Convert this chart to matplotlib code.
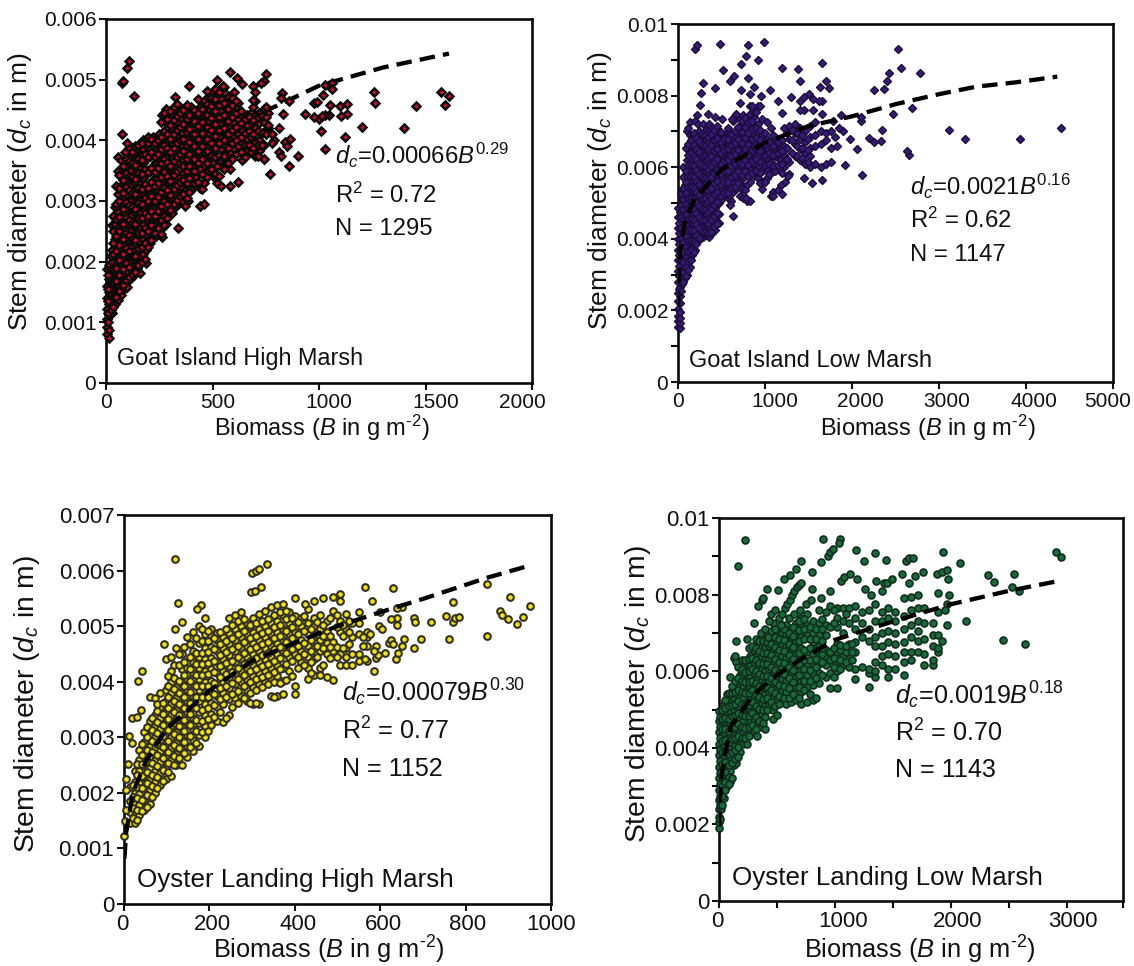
import numpy as np
import matplotlib
matplotlib.use("Agg")
import matplotlib.pyplot as plt
from matplotlib.transforms import ScaledTranslation

plt.rcParams['font.family'] = ['Liberation Sans', 'DejaVu Sans']
plt.rcParams['mathtext.fontset'] = 'custom'
plt.rcParams['mathtext.rm'] = 'Liberation Sans'
plt.rcParams['mathtext.it'] = 'Liberation Sans:italic'
plt.rcParams['mathtext.bf'] = 'Liberation Sans:bold'

W, H = 1134, 966

# all stem diameters below are read in mm, biomass in g/m2
# dense part of each cloud is read column by column: biomass, then diameters in that column

# Goat Island High Marsh
gh_b = [5,15,28,42,55,70,85,100,115,130,145,160,175,190,205,220,235,250,265,280,295,310,325,340,355,370,385,400,420,440,460,480,500,520,540,560,580,600,620,640,660,680,700,720,740,760]
gh_d = [[.8,.92,1.05,1.22,1.4,1.6,1.88],[.75,.88,1.12,1.3,1.5,1.72,1.95],[1.15,1.38,1.6,1.8,2.0,2.2,2.6],
    [1.3,1.5,1.72,1.95,2.15,2.38,2.62,2.9],[1.36,1.62,1.85,2.08,2.3,2.55,2.82,3.12,3.5,3.72],[1.45,1.68,1.92,2.15,2.42,2.68,2.95,3.2,3.68],
    [1.55,1.8,2.05,2.3,2.55,2.8,3.05,3.3,3.5],[1.58,1.85,2.12,2.38,2.62,2.88,3.12,3.38,3.6,3.8],[1.72,2.0,2.25,2.5,2.75,3.0,3.25,3.5,3.72],
    [1.78,2.05,2.3,2.58,2.82,3.08,3.32,3.58,3.82],[1.9,2.15,2.4,2.65,2.9,3.15,3.4,3.65,3.85],[1.82,2.1,2.32,2.55,2.8,3.02,3.28,3.52,3.75,3.9],
    [2.12,2.38,2.62,2.88,3.12,3.38,3.62,3.85,4.0],[1.98,2.2,2.45,2.7,2.95,3.2,3.45,3.7,3.92],[2.3,2.55,2.8,3.02,3.28,3.5,3.75,3.98],
    [2.4,2.62,2.88,3.1,3.35,3.58,3.82,4.05],[2.42,2.7,2.95,3.18,3.4,3.65,3.88,4.02],[2.5,2.78,3.02,3.25,3.48,3.7,3.92,4.1],
    [2.4,2.55,2.82,3.08,3.3,3.55,3.78,4.0,4.42],[2.62,2.88,3.12,3.38,3.6,3.82,4.05,4.3,4.52],[2.78,3.0,3.2,3.45,3.68,3.9,4.12,4.38],
    [2.8,3.05,3.28,3.52,3.72,3.95,4.18,4.42],[2.9,3.1,3.35,3.58,3.8,4.02,4.25,4.5,4.72],[2.55,2.95,3.2,3.42,3.65,3.85,4.08,4.3,4.55],
    [3.0,3.22,3.48,3.7,3.92,4.12,4.35],[2.92,3.18,3.38,3.58,3.78,4.0,4.2,4.42],[3.0,3.25,3.45,3.65,3.85,4.05,4.28],
    [3.18,3.52,3.72,3.92,4.12,4.32,4.55],[3.4,3.6,3.8,4.0,4.2,4.42],[2.92,3.22,3.52,3.72,3.92,4.1,4.32,4.55],
    [2.95,3.3,3.6,3.8,4.0,4.2,4.4,4.65],[3.5,3.72,3.9,4.1,4.3,4.5,4.72],[3.42,3.62,3.85,4.05,4.25,4.45,4.62,4.8],
    [3.3,3.58,3.95,4.15,4.38,4.58,4.75,5.0],[3.25,3.65,3.85,4.05,4.28,4.48,4.68,4.85],[3.62,3.9,4.1,4.32,4.55,4.78],
    [3.25,3.52,3.8,4.0,4.22,4.42,4.62,5.12],[3.85,4.05,4.28,4.48,4.8],[3.32,3.9,4.1,4.35,4.62],[3.68,3.95,4.15,4.4,4.93],
    [3.82,4.02,4.25,4.42],[3.8,4.05,4.3,4.45],[3.75,3.98,4.2,4.42,4.65],[3.82,4.0,4.28,4.45],[3.7,3.92,4.3,4.52],[4.2,4.45]]
gh_b2 = [10,22,35,48,62,78,92,107,122,138,152,168,182,198,212,228,242,258,272,288,302,318,332,348,362,378,392,412,432,452,472,492,512,532,552,572,592,612,632,652,672,692,712,732,752]
gh_d2 = [[1.0,1.15,1.35,1.55,1.78],[1.2,1.45,1.65,1.88,2.1],[1.25,1.42,1.67,1.88,2.12,2.3,2.5,2.75],[1.42,1.68,1.9,2.18,2.43,2.7,2.95,3.25],
    [1.52,1.78,2.03,2.27,2.5,2.73,3.0,3.22,3.43],[1.62,1.88,2.13,2.37,2.62,2.87,3.13,3.35,3.58],[1.7,1.97,2.22,2.47,2.72,2.98,3.23,3.46,3.7],
    [1.75,1.92,2.18,2.44,2.68,2.93,3.18,3.42,3.66,3.88],[1.8,2.1,2.37,2.64,2.9,3.14,3.4,3.62,3.8],[1.83,2.1,2.35,2.62,2.86,3.12,3.36,3.6,3.9],
    [1.95,2.22,2.47,2.72,2.97,3.22,3.46,3.7,3.92],[2.0,2.25,2.47,2.72,2.95,3.2,3.44,3.68,3.95],[2.05,2.3,2.55,2.8,3.05,3.28,3.52,3.78],
    [2.25,2.5,2.75,3.0,3.22,3.48,3.72,3.96,4.05],[2.35,2.6,2.83,3.08,3.32,3.55,3.8,4.02],[2.48,2.75,3.0,3.25,3.47,3.72,3.95],[2.55,2.83,3.07,3.3,3.55,3.78,4.0],
    [2.45,2.68,2.92,3.15,3.4,3.62,3.85,4.05,4.3],[2.6,2.75,3.0,3.22,3.47,3.7,3.92,4.15,4.45],[2.72,2.95,3.18,3.42,3.65,3.87,4.1,4.35],
    [2.85,3.1,3.33,3.57,3.8,4.02,4.25,4.48],[2.95,3.2,3.43,3.66,3.88,4.1,4.33,4.55],[3.02,3.27,3.5,3.73,3.95,4.17,4.4,4.6],[3.08,3.32,3.55,3.78,4.0,4.22,4.45],
    [3.12,3.35,3.57,3.82,4.03,4.27,4.5],[3.05,3.3,3.5,3.7,3.93,4.13,4.35,4.58],[3.15,3.38,3.58,3.78,3.98,4.18,4.42],[3.3,3.5,3.7,3.9,4.1,4.32,4.5],
    [3.32,3.62,3.83,4.03,4.23,4.45,4.68],[3.2,3.45,3.7,3.9,4.12,4.3,4.52],[3.4,3.63,3.83,4.02,4.22,4.42,4.6,4.82],[3.53,3.74,3.96,4.17,4.37,4.57,4.7],
    [3.45,3.72,3.87,4.07,4.27,4.48,4.68,4.85],[3.42,3.76,3.96,4.17,4.38,4.58,4.8],[3.52,3.75,4.0,4.2,4.42,4.62,4.88],[3.62,3.88,4.1,4.32,4.52,4.72],
    [3.7,3.95,4.17,4.38,4.58,4.7],[3.78,4.0,4.22,4.45,4.65],[3.8,4.05,4.28,4.48],[3.72,3.92,4.12,4.35],[3.92,4.15,4.38],[3.88,4.1,4.33,4.55],
    [3.75,3.92,4.15,4.38],[3.92,4.12,4.4],[4.1,4.38,4.55]]
gh_extra = [(107,5.3),(100,5.2),(75,4.95),(80,4.97),(130,4.73),(75,4.1),(100,3.95),(90,3.8),(1590,4.58),(1612,4.73),(1575,4.8),(1457,4.57),
    (1400,4.2),(1262,4.62),(1257,4.8),(1200,4.22),(1130,4.6),(1130,4.43),(1105,4.4),(1100,4.57),(1122,4.05),(1050,4.58),(1045,4.42),(1030,4.42),
    (1060,4.95),(1030,4.92),(1060,4.85),(1020,4.75),(1000,4.35),(1012,4.4),(975,4.38),(975,4.62),(990,4.63),(1008,4.15),(1027,3.85),(932,4.43),
    (900,3.75),(865,4.03),(857,3.57),(830,4.43),(860,4.65),(825,4.78),(820,4.7),(810,4.2),(810,3.8),(820,3.75),(840,3.98),(850,3.9),(790,4.0),
    (780,3.95),(770,3.45),(742,3.7),(780,4.1),(760,4.25),(750,5.1),(740,4.97),(730,4.95),(690,4.9),(700,4.8),(690,4.67),(615,5.03),(550,4.9),(390,4.9)]
gh_line_b = [3,10,25,50,100,150,200,300,400,500,700,1000,1300,1610]
gh_line_d = [.9,1.29,1.69,2.06,2.51,2.81,3.07,3.44,3.73,4.0,4.4,4.9,5.2,5.43]

# Goat Island Low Marsh
gl_b = [5,20,45,75,105,135,165,195,225,255,290,325,360,395,430,470,510,550,590,630,670,710,750,790,830,870,920,970,1020,1070,1120,1170,1220,1280,1340,1400,1460,1520,1580,1640,1700,1760]
gl_d = [[1.55,1.7,1.85,2.05,2.25,2.5,2.8,3.1,3.4,3.7,4.0,4.3,4.6,4.85],[1.5,1.65,1.8,1.95,2.2,2.4,2.65,2.95,3.25,3.55,3.85,4.15,4.45,4.75],
    [2.75,3.0,3.3,3.6,3.9,4.2,4.5,4.8,5.1,5.35],[2.9,3.15,3.4,3.7,4.0,4.3,4.6,4.9,5.2,5.5,5.95],[3.0,3.25,3.55,3.85,4.15,4.45,4.75,5.05,5.35,5.65,6.2,6.5,7.0],
    [3.2,3.45,3.75,4.05,4.35,4.65,4.95,5.25,5.55,5.85,6.15,6.9,7.25],[3.55,3.85,4.15,4.45,4.75,5.05,5.35,5.65,5.95,6.25,6.6,6.85],
    [3.7,4.0,4.3,4.6,4.9,5.2,5.5,5.8,6.1,6.4,6.7,7.3],[3.95,4.25,4.55,4.85,5.15,5.45,5.75,6.05,6.35,6.65,7.2],[4.1,4.4,4.7,5.0,5.3,5.6,5.9,6.2,6.5,6.8],
    [4.05,4.35,4.65,4.95,5.25,5.55,5.85,6.15,6.45,6.75,7.2],[4.1,4.4,4.7,5.0,5.3,5.6,5.9,6.2,6.5,6.8,7.05],[4.05,4.3,4.6,4.9,5.2,5.5,5.8,6.1,6.4,6.7,7.0,7.2],
    [4.15,4.45,4.75,5.05,5.35,5.65,5.95,6.25,6.55,6.85,7.1],[4.25,4.55,4.85,5.15,5.45,5.75,6.05,6.35,6.65,6.95,7.4],[4.45,4.7,5.0,5.3,5.6,5.9,6.2,6.5,6.8,7.0],
    [5.1,5.4,5.7,6.0,6.3,6.6,6.9,7.35],[5.2,5.5,5.8,6.1,6.4,6.7,6.95],[5.15,5.45,5.75,6.05,6.35,6.65,6.9],[4.65,5.3,5.6,5.9,6.2,6.5,6.8,7.3],
    [5.4,5.7,6.0,6.3,6.6,6.9,7.5],[5.2,5.55,5.85,6.15,6.45,6.75,7.05,7.35,7.8],[5.15,5.7,6.0,6.3,6.6,6.9,7.2,7.45],[5.05,5.5,5.85,6.15,6.45,6.75,7.05,7.3],
    [5.6,5.95,6.25,6.55,6.85,7.15,7.5,7.7],[5.75,6.1,6.4,6.7,7.0,7.4,7.55],[5.7,6.0,6.3,6.6,6.9,7.2,7.7],[5.4,5.6,5.9,6.2,6.5,6.9,7.35],
    [5.7,5.95,6.25,6.55,6.8,7.25],[5.2,5.85,6.15,6.45,6.7,7.1],[5.9,6.3,6.55,6.85],[5.95,6.2,6.5,6.8],[6.0,6.35,6.6,7.1],[5.8,6.15,6.8,7.15],
    [6.3,6.65,6.95,7.2],[6.2,6.5,6.8,7.1],[6.1,6.4,6.7,7.0],[6.0,6.3,6.55,6.85,7.15],[6.1,6.6,6.9,7.25],[6.0,6.65,7.0],[6.1,6.75,6.95],[6.15,6.55,7.0]]
gl_b2 = [10,30,60,90,120,150,180,210,240,272,307,342,378,412,450,490,530,570,610,650,690,730,770,810,850,895,945,995,1045,1095,1145,1195,1250,1310,1370,1430,1490]
gl_d2 = [[2.6,2.95,3.25,3.55,3.85,4.15,4.45],[2.55,2.8,3.1,3.4,3.7,4.0,4.3,4.6,4.95,5.25],[2.8,3.08,3.35,3.62,3.92,4.22,4.52,4.82,5.12,5.42,5.72,6.0],
    [2.95,3.22,3.5,3.78,4.08,4.38,4.68,4.98,5.28,5.58,5.9,6.55],[3.12,3.38,3.65,3.95,4.25,4.55,4.85,5.15,5.45,5.75,6.05,6.35,6.65,7.1],
    [3.4,3.68,3.95,4.25,4.55,4.85,5.15,5.45,5.75,6.05,6.4,6.75],[3.62,3.92,4.22,4.52,4.82,5.12,5.42,5.72,6.02,6.32,6.62,6.95],
    [3.85,4.12,4.42,4.72,5.02,5.32,5.62,5.92,6.22,6.52,6.82],[4.02,4.3,4.62,4.92,5.22,5.52,5.82,6.12,6.42,6.72,7.0],[4.22,4.52,4.82,5.12,5.42,5.72,6.02,6.32,6.62,6.92],
    [4.2,4.5,4.8,5.1,5.4,5.7,6.0,6.3,6.6,6.9],[4.15,4.45,4.75,5.05,5.35,5.65,5.95,6.25,6.55,6.85],[4.2,4.52,4.82,5.12,5.42,5.72,6.02,6.32,6.62,6.92],
    [4.35,4.65,4.95,5.25,5.55,5.85,6.15,6.45,6.75,7.05],[4.42,4.72,5.02,5.32,5.62,5.92,6.22,6.52,6.82,7.15],[5.2,5.5,5.8,6.1,6.4,6.7,6.98],[5.28,5.58,5.88,6.18,6.48,6.78],
    [5.28,5.6,5.9,6.2,6.5,6.8,7.1],[5.05,5.42,5.72,6.02,6.32,6.62,6.92],[5.45,5.78,6.08,6.38,6.68,7.0],[5.55,5.88,6.18,6.48,6.78,7.12],[5.4,5.78,6.08,6.38,6.68,6.98,7.28],
    [5.35,5.9,6.2,6.52,6.82,7.12,7.38],[5.75,6.05,6.35,6.65,6.95,7.25],[5.85,6.18,6.48,6.78,7.08,7.3],[5.9,6.22,6.52,6.82,7.1],[5.55,5.85,6.15,6.45,6.75,7.05],
    [5.6,6.05,6.35,6.65,6.95],[5.8,6.1,6.4,6.7],[5.3,6.02,6.35,6.6,6.9],[6.05,6.4,6.7],[5.85,6.1,6.45,6.75],[6.22,6.55,6.95],[6.4,6.75,7.05],[6.3,6.6,6.95],[6.25,6.55,6.9],[6.15,6.48,6.78]]
gl_extra = [(4400,7.1),(3930,6.8),(3300,6.78),(3110,7.03),(2780,8.62),(2690,7.65),(2660,6.35),(2630,6.45),(2560,8.78),(2530,9.3),(2470,7.48),(2420,8.62),
    (2400,8.4),(2370,8.18),(2350,7.05),(2330,6.72),(2250,6.7),(2250,8.15),(2200,6.82),(2120,5.78),(2100,7.28),(2100,7.4),(2060,6.5),(1980,6.8),(1920,6.05),
    (1870,7.45),(1900,7.0),(1850,7.1),(1800,6.85),(1780,7.3),(1830,6.6),(200,9.3),(215,9.4),(480,9.45),(800,9.4),(990,9.5),(920,9.0),(780,9.1),(720,8.88),
    (520,8.72),(1200,8.78),(1380,8.75),(1650,8.92),(1400,8.4),(1700,8.4),(1740,8.2),(1630,8.25),(1650,7.85),(1060,8.15),(1150,7.85),(1300,7.95),(1200,7.52),
    (1400,7.85),(1450,7.95),(1500,8.05),(1550,7.9),(1450,7.6),(1550,7.6),(1650,7.5),(1620,7.85),(1400,7.6),(290,8.35),(260,8.07),(430,8.2),(640,8.55),
    (600,8.42),(800,8.5),(720,8.15),(830,8.05),(870,8.25),(950,8.0),(850,7.7),(940,7.7),(900,7.55),(620,7.35),(250,7.75),(340,7.5),(220,7.45),(1200,5.25),
    (1090,5.2),(1150,5.35),(1230,5.6),(1270,5.75),(1180,5.5),(1450,5.7),(1540,5.55),(1650,5.65),(830,5.05),(780,5.15),(600,4.95)]
gl_line_b = [1,5,20,80,200,500,1000,1500,2000,2500,3000,3430,3880,4360]
gl_line_d = [2.1,2.72,3.56,4.5,5.15,5.94,6.69,7.15,7.42,7.76,8.04,8.25,8.37,8.53]

# Oyster Landing High Marsh
oh_b = [15,25,35,48,60,72,85,98,110,122,135,148,162,176,190,204,218,232,246,260,274,288,302,316,330,344,358,372,386,400,414,430,445,460,475,490,505,520,535,550,570]
oh_d = [[1.45,1.65,1.85,2.1],[1.45,1.6,1.8,2.0,2.2,2.4],[1.6,1.78,1.98,2.18,2.4,2.6,2.78],[1.7,1.88,2.08,2.28,2.5,2.7,2.92,3.1],
    [1.8,2.05,2.25,2.45,2.65,2.85,3.05,3.3,3.72],[2.0,2.2,2.4,2.6,2.8,3.0,3.2,3.4,3.7],[2.15,2.35,2.55,2.75,2.95,3.15,3.35,3.55,3.8],
    [2.25,2.45,2.65,2.85,3.05,3.25,3.45,3.65,3.85,4.4],[2.3,2.6,2.8,3.0,3.2,3.4,3.6,3.8,4.0,4.2,4.45],[2.5,2.7,2.9,3.1,3.3,3.5,3.7,3.9,4.6],
    [2.5,2.8,3.0,3.2,3.4,3.6,3.8,4.0,4.22,4.5],[2.65,2.85,3.05,3.25,3.45,3.65,3.85,4.05,4.25,4.8],[2.75,2.95,3.15,3.35,3.55,3.75,3.95,4.15,4.35,4.55,4.9],
    [2.85,3.05,3.25,3.45,3.65,3.85,4.05,4.25,4.45,4.7,5.0],[3.0,3.2,3.4,3.6,3.8,4.0,4.2,4.4,4.6,4.85],[3.22,3.42,3.62,3.82,4.02,4.22,4.42,4.62,4.82,4.95],
    [3.3,3.55,3.75,3.95,4.15,4.35,4.55,4.75,4.88],[3.28,3.6,3.8,4.0,4.2,4.4,4.6,4.8],[3.4,3.68,3.88,4.08,4.28,4.48,4.68,4.88,5.15],
    [3.7,3.95,4.15,4.35,4.55,4.75,4.95,5.2],[3.75,4.0,4.2,4.4,4.6,4.8,5.0,5.25],[3.65,3.85,4.05,4.25,4.45,4.65,4.85,5.05],[3.6,3.9,4.1,4.3,4.5,4.7,4.9,5.15],
    [3.6,3.95,4.15,4.35,4.55,4.75,4.95,5.22],[4.0,4.2,4.4,4.6,4.8,5.0,5.28],[3.75,4.05,4.25,4.45,4.65,4.85,5.05,5.35],[3.75,4.1,4.3,4.5,4.7,4.9,5.1,5.38],
    [3.78,4.02,4.25,4.55,4.75,4.95,5.2,5.4],[4.2,4.45,4.65,4.85,5.05,5.25],[3.78,3.92,4.5,4.7,4.9,5.18],[4.35,4.55,4.75,5.0,5.15],[4.05,4.25,4.45,4.65,4.85,5.05,5.3],
    [4.12,4.4,4.6,4.8,5.0,5.15],[4.12,4.25,4.55,4.75,4.95,5.2],[4.08,4.5,4.7,4.9,5.1],[4.03,4.55,4.72,5.28],[4.3,4.5,4.9,5.1],[4.3,4.45,4.6,4.95,5.22],
    [4.3,4.5,4.8,5.05],[4.38,4.5,4.85,5.05,5.25],[4.38,4.65,4.8,4.9]]
oh_b2 = [20,30,42,54,66,78,91,104,116,128,141,155,169,183,197,211,225,239,253,267,281,295,309,323,337,351,365,380,393,407,422,437,452,467,482,498,513,528]
oh_d2 = [[1.55,1.73,1.92,2.15],[1.52,1.7,1.9,2.1,2.32,2.52],[1.68,1.87,2.08,2.3,2.52,2.68,2.88],[1.75,1.97,2.18,2.38,2.58,2.78,3.0,3.18],
    [1.92,2.12,2.33,2.53,2.73,2.93,3.13,3.35],[2.08,2.28,2.48,2.68,2.88,3.08,3.28,3.48,3.6],[2.22,2.42,2.62,2.82,3.02,3.22,3.42,3.62],
    [2.37,2.53,2.73,2.93,3.13,3.33,3.53,3.73,3.93,4.1],[2.5,2.66,2.86,3.06,3.26,3.46,3.66,3.86,4.06,4.3],[2.62,2.8,3.0,3.2,3.4,3.6,3.8,4.02,4.3,4.5],
    [2.72,2.92,3.12,3.32,3.52,3.72,3.92,4.12,4.35,4.62],[2.82,3.02,3.22,3.42,3.62,3.82,4.02,4.22,4.45,4.68],[2.9,3.12,3.32,3.52,3.72,3.92,4.12,4.32,4.52,4.78],
    [3.1,3.3,3.5,3.72,3.92,4.12,4.32,4.52,4.74,4.95],[3.12,3.33,3.53,3.73,3.93,4.13,4.33,4.53,4.73,4.92],[3.37,3.58,3.78,3.98,4.18,4.38,4.58,4.78],
    [3.45,3.68,3.88,4.08,4.28,4.48,4.68,4.9],[3.35,3.73,3.93,4.13,4.33,4.53,4.73,4.95],[3.55,3.78,3.98,4.18,4.38,4.58,4.78,5.02],[3.62,3.83,4.05,4.25,4.45,4.65,4.85,5.1],
    [3.7,3.92,4.12,4.32,4.52,4.72,4.92,5.12],[3.62,3.8,4.0,4.2,4.38,4.58,4.78,4.98,5.02],[3.62,3.85,4.05,4.22,4.42,4.62,4.82,5.05],[3.9,4.08,4.28,4.48,4.68,4.88,5.1],
    [3.95,4.12,4.32,4.52,4.72,4.92,5.12],[3.73,4.0,4.18,4.38,4.58,4.78,4.98,5.2],[3.98,4.22,4.42,4.62,4.82,5.02,5.25],[4.03,4.32,4.52,4.72,4.92,5.12,5.28],
    [4.1,4.38,4.58,4.78,4.98,5.15],[4.25,4.45,4.65,4.85,5.08],[4.3,4.5,4.7,4.92,5.18],[4.15,4.35,4.55,4.75,4.95],[4.45,4.65,4.85,5.08],[4.3,4.6,4.82,5.02],
    [4.42,4.62,4.82,5.15],[4.45,4.62,4.98,5.2],[4.6,4.82,5.02],[4.68,4.9,5.1]]
oh_extra = [(120,6.2),(300,5.96),(310,6.0),(316,6.03),(336,6.12),(298,5.62),(306,5.64),(320,5.7),(126,5.42),(136,5.07),(120,4.95),(180,5.38),(170,5.3),(190,5.14),
    (94,4.68),(42,4.2),(33,4.02),(40,3.5),(18,3.35),(30,3.36),(12,3.02),(18,2.9),(10,2.52),(5,2.25),(4,2.05),(2,1.5),(5,1.7),(0,1.22),(400,5.5),(425,5.4),(445,5.45),
    (465,5.5),(490,5.52),(505,5.58),(505,5.45),(565,5.7),(580,5.45),(630,5.68),(650,5.35),(640,5.33),(850,5.75),(770,5.43),(905,5.53),(950,5.36),(880,5.27),(886,5.2),
    (900,5.12),(920,5.03),(935,5.16),(850,4.83),(760,4.77),(755,5.18),(770,5.08),(775,5.15),(785,5.17),(720,5.07),(695,4.77),(680,5.15),(682,5.07),(678,4.6),(655,4.77),
    (650,4.65),(640,5.15),(640,5.02),(625,5.13),(637,4.4),(642,4.52),(612,4.52),(620,4.7),(625,4.75),(630,4.68),(600,5.25),(598,5.0),(605,4.95),(585,4.2),(590,4.42),
    (595,4.48),(590,4.65),(585,4.55),(575,4.85),(560,4.65),(560,4.8),(565,4.4)]
oh_line_b = [1,5,20,50,100,200,300,400,500,600,700,850,950]
oh_line_d = [.82,1.28,1.98,2.55,3.15,3.84,4.38,4.7,5.0,5.25,5.49,5.87,6.09]

# Oyster Landing Low Marsh
ol_b = [4,18,40,70,95,125,150,180,210,240,270,300,330,360,395,430,465,500,540,580,620,660,710,760,810,860,920,960,1020,1070,1120,1170,1230,1290,1340,1400,1460,1520,1590,1650,1710,1770,1840,1890]
ol_d = [[1.9,2.05,2.2,2.4,2.65,2.9,3.2,3.5,3.8,4.1,4.4,4.7,4.95],[2.4,2.6,2.85,3.1,3.4,3.7,4.0,4.3,4.6,4.85],[2.7,2.95,3.2,3.45,3.75,4.05,4.35,4.65,5.15],
    [3.0,3.35,3.65,3.95,4.25,4.55,4.85,5.4],[3.1,3.4,3.75,4.05,4.35,4.65,4.95,5.25,5.85],[3.55,3.8,4.1,4.4,4.7,5.0,5.3,6.35],[3.6,3.9,4.2,4.5,4.8,5.1,5.4,5.7,6.25,6.8],
    [3.9,4.1,4.45,4.75,5.05,5.35,5.65,5.9],[4.1,4.4,4.7,5.0,5.3,5.6,5.9,6.2],[4.1,4.35,4.6,4.9,5.2,5.5,5.8,6.05,6.25,6.85],[4.4,4.7,5.0,5.3,5.6,5.85,6.15,6.4],
    [4.45,4.75,5.05,5.35,5.65,5.95,6.25,6.55,7.25],[4.3,4.6,4.9,5.2,5.5,5.8,6.1,6.4,6.7],[4.55,4.85,5.15,5.45,5.75,6.05,6.35,6.65,7.0],[4.5,4.8,5.1,5.4,5.7,6.0,6.3,6.6,6.85],
    [5.15,5.45,5.75,6.05,6.35,6.65,6.95],[4.75,5.0,5.3,5.6,5.9,6.2,6.5,6.8,7.25],[4.85,5.25,5.55,5.85,6.15,6.45,6.75,7.05],[5.2,5.5,5.8,6.1,6.4,6.7,7.0,7.2],
    [5.15,5.45,5.75,6.05,6.35,6.65,6.95,7.2],[5.2,5.6,5.9,6.2,6.5,6.8,7.1],[5.25,5.6,5.85,6.15,6.45,6.75,7.0,7.25],[5.15,5.45,5.75,6.05,6.35,6.6,6.9,7.2,7.4],
    [5.2,5.6,5.9,6.15,6.5,6.95,7.2,7.5],[5.25,5.65,5.95,6.2,6.45,6.75,7.0,7.3],[5.7,5.95,6.2,6.45,6.65,6.95,7.25,7.6],[5.85,6.15,6.35,6.55,6.95,7.2,7.55],
    [5.55,5.95,6.3,6.5,7.15,7.7],[5.55,6.0,6.25,6.5,6.7,7.15,7.4,7.65],[6.15,6.4,6.6,7.0,7.3,7.65],[6.1,6.45,6.7,7.25,7.65],[5.8,6.05,6.5,6.75,7.1,7.4,7.7],
    [6.1,6.9,7.25,7.55],[5.6,5.95,6.05,6.8,7.1,7.6],[5.85,6.0,6.25,6.65,6.9,7.3,7.75],[6.15,6.4,6.65,7.0,7.3,7.55],[5.85,6.05,6.45,6.75,7.05,7.4,7.65],
    [6.05,6.4,6.7,7.0,7.3,7.55],[5.9,6.25,6.5,6.75,7.1,7.45,7.9],[6.3,6.5,6.9,7.2,7.6,7.95],[6.5,6.8,7.05,7.3,7.65,8.0],[6.15,6.45,6.85,7.25,7.65],
    [6.15,6.3,6.65,6.95,7.25],[6.5,6.6,6.95,7.55,8.05]]
ol_b2 = [10,28,55,82,110,138,165,195,225,255,285,315,345,378,412,448,482,520,560,600,640,685,735,785,835,890,990,1045,1095,1145]
ol_d2 = [[2.15,2.5,2.75,3.05,3.35,3.65,3.95,4.25,4.55,4.8],[2.5,2.75,3.0,3.28,3.58,3.88,4.18,4.48,4.75,5.0],[2.9,3.1,3.38,3.62,3.9,4.2,4.5,4.78,5.05,5.25],
    [3.05,3.25,3.55,3.85,4.15,4.45,4.75,5.08,5.42],[3.2,3.6,3.9,4.22,4.52,4.82,5.12,5.42,5.62],[3.7,3.95,4.25,4.55,4.85,5.15,5.45,5.75,6.4],[3.75,4.02,4.32,4.62,4.92,5.22,5.52,5.82,6.1],
    [4.25,4.55,4.85,5.15,5.45,5.75,6.05,6.3],[4.25,4.52,4.82,5.12,5.42,5.72,5.98,6.3],[4.3,4.55,4.82,5.12,5.42,5.72,6.0,6.32,6.6],[4.6,4.9,5.2,5.5,5.75,6.05,6.35,6.65],
    [4.5,4.8,5.1,5.4,5.7,6.0,6.3,6.6,6.85],[4.7,5.02,5.32,5.62,5.92,6.22,6.52,6.8],[4.65,4.98,5.28,5.58,5.88,6.18,6.48,6.78],[5.0,5.3,5.6,5.88,6.18,6.48,6.75,7.0],
    [5.2,5.5,5.82,6.12,6.42,6.72,7.05],[5.1,5.42,5.72,6.02,6.32,6.62,6.9],[5.15,5.35,5.65,5.95,6.25,6.55,6.85],[5.3,5.62,5.92,6.22,6.52,6.82,7.1],[5.3,5.55,5.82,6.12,6.42,6.72,7.0],
    [5.4,5.72,6.02,6.32,6.62,6.92,7.15],[5.3,5.6,5.9,6.2,6.48,6.78,7.08,7.3],[5.5,5.75,6.05,6.3,6.55,6.85,7.1,7.35],[5.4,5.75,6.02,6.3,6.6,6.85,7.15],[5.3,5.82,6.1,6.32,6.55,6.85,7.1],
    [5.9,6.25,6.45,6.6,6.8,7.1,7.35],[5.85,6.12,6.35,6.6,7.25,7.6],[6.05,6.3,6.55,6.68],[6.25,6.5,6.65,7.5],[6.3,6.5,6.7]]
ol_extra = [(225,9.43),(165,8.75),(900,9.45),(1045,9.45),(1035,9.35),(1180,9.17),(1340,9.08),(1250,8.88),(1440,8.9),(1610,8.88),(1640,8.95),(1670,8.95),(1930,9.1),(2080,8.82),
    (2900,9.12),(2950,8.98),(2320,8.5),(2370,8.32),(2540,8.55),(2520,8.2),(2585,8.1),(2130,7.32),(2450,6.82),(2640,6.7),(340,7.7),(370,7.85),(380,7.9),(410,8.15),(510,8.12),
    (560,8.4),(610,8.5),(660,8.68),(710,8.87),(800,8.6),(880,8.85),(940,9.0),(960,9.1),(985,9.2),(400,7.1),(430,7.3),(450,7.5),(480,7.6),(520,7.4),(540,7.5),(570,7.65),
    (590,7.75),(610,7.85),(630,8.0),(650,8.1),(670,8.2),(690,8.25),(710,8.3),(420,6.9),(480,7.1),(530,7.2),(600,7.4),(650,7.5),(700,7.6),(750,7.75),(790,7.85),(800,8.15),
    (880,7.9),(960,8.1),(1050,8.35),(1080,8.45),(1130,8.55),(1190,8.4),(1260,8.15),(1310,8.0),(1350,8.35),(1400,8.1),(1420,8.3),(1450,8.3),(1490,8.4),(1580,8.55),(1640,8.3),
    (1690,8.48),(1760,8.6),(1880,8.55),(1920,8.6),(1960,8.65),(1970,8.4),(1980,7.98),(1960,7.75),(1950,7.6),(1965,7.2),(1920,6.8)]
ol_line_b = [1,5,20,50,100,300,500,700,1000,1500,2000,2500,2900]
ol_line_d = [1.95,2.5,3.2,3.8,4.55,5.4,5.9,6.3,6.82,7.3,7.75,8.1,8.34]

x_ticks_gh = [0,500,1000,1500,2000]
x_ticks_gl = [0,1000,2000,3000,4000,5000]
x_ticks_oh = [0,200,400,600,800,1000]
x_ticks_ol = [0,1000,2000,3000]
y_ticks_gh = ["0","0.001","0.002","0.003","0.004","0.005","0.006"]
y_ticks_gl = ["0","0.002","0.004","0.006","0.008","0.01"]
y_ticks_oh = ["0","0.001","0.002","0.003","0.004","0.005","0.006","0.007"]
y_ticks_ol = ["0","0.002","0.004","0.006","0.008","0.01"]


def expand(cols_b, cols_d, cols_b2, cols_d2, extra):
    xs, ys = [], []
    for b, ds in list(zip(cols_b, cols_d)) + list(zip(cols_b2, cols_d2)):
        for d in ds:
            xs.append(b)
            ys.append(d / 1000)
    for b, d in extra:
        xs.append(b)
        ys.append(d / 1000)
    return xs, ys


def fx(px):
    return px / W


def fy(py):
    return 1 - py / H


fig = plt.figure(figsize=(W / 100, H / 100), dpi=100)

panels = [
    dict(box=(106, 19, 532, 383), xs=expand(gh_b, gh_d, gh_b2, gh_d2, gh_extra), line=(gh_line_b, gh_line_d), xlim=2000, ylim=0.006,
         xt=x_ticks_gh, xminor=[], yt=y_ticks_gh, yminor=[], marker='D', ms=3.6, mew=1.8, fc='#d8082e', ec='#0a0a0a', line_z=1,
         ts=15, ls=19, ann=17.2, site_fs=16.8, eq=r'$d_c$=0.00066$B^{0.29}$', r2=r'R$^2$ = 0.72', n='N = 1295', site='Goat Island High Marsh',
         tx=335, ty=(155, 195, 229), sx=117, sy=358, ylx=20, yly=192, xlx=322, xly=428, shift=[0,5,10,10,-10]),
    dict(box=(678, 24, 1113, 382), xs=expand(gl_b, gl_d, gl_b2, gl_d2, gl_extra), line=(gl_line_b, gl_line_d), xlim=5000, ylim=0.01,
         xt=x_ticks_gl, xminor=[], yt=y_ticks_gl, yminor=[0.001,0.003,0.005,0.007,0.009], marker='D', ms=4, mew=1.0, fc='#3a1a78', ec='#1a0d3a', line_z=5,
         ts=15, ls=19, ann=17.2, site_fs=17, eq=r'$d_c$=0.0021$B^{0.16}$', r2=r'R$^2$ = 0.62', n='N = 1147', site='Goat Island Low Marsh',
         tx=910, ty=(186, 220, 255), sx=689, sy=361, ylx=600, yly=191, xlx=928, xly=428, shift=[0,10,8,8,8,-5]),
    dict(box=(124, 515, 551, 904), xs=expand(oh_b, oh_d, oh_b2, oh_d2, oh_extra), line=(oh_line_b, oh_line_d), xlim=1000, ylim=0.007,
         xt=x_ticks_oh, xminor=[], yt=y_ticks_oh, yminor=[], marker='o', ms=4.8, mew=1.5, fc='#f2e60e', ec='#33301e', line_z=5,
         ts=16, ls=20.3, ann=18.1, site_fs=18.7, eq=r'$d_c$=0.00079$B^{0.30}$', r2=r'R$^2$ = 0.77', n='N = 1152', site='Oyster Landing High Marsh',
         tx=342, ty=(692, 731, 769), sx=137, sy=880, ylx=27, yly=704, xlx=329, xly=950, shift=[-2,3,3,3,2,0]),
    dict(box=(719, 518, 1123, 901), xs=expand(ol_b, ol_d, ol_b2, ol_d2, ol_extra), line=(ol_line_b, ol_line_d), xlim=3480, ylim=0.01,
         xt=x_ticks_ol, xminor=[500,1500,2500,3480], yt=y_ticks_ol, yminor=[0.001,0.003,0.005,0.007,0.009], marker='o', ms=5, mew=1.2, fc='#1a6a3a', ec='#0f2e1c', line_z=5,
         ts=16, ls=20.3, ann=18.1, site_fs=18.7, eq=r'$d_c$=0.0019$B^{0.18}$', r2=r'R$^2$ = 0.70', n='N = 1143', site='Oyster Landing Low Marsh',
         tx=895, ty=(695, 733, 770), sx=732, sy=878, ylx=638, yly=694, xlx=920, xly=950, shift=[-2,8,6,6]),
]

for p in panels:
    l, t, r, b = p['box']
    ax = fig.add_axes([fx(l), fy(b), (r - l) / W, (b - t) / H])
    ax.plot(p['xs'][0], p['xs'][1], linestyle='none', marker=p['marker'], ms=p['ms'], mew=p['mew'],
            mfc=p['fc'], mec=p['ec'], zorder=3, clip_on=False)
    ax.plot(p['line'][0], np.array(p['line'][1]) / 1000, color='black', lw=3.1, dashes=(3.6, 1.9), zorder=p['line_z'])
    ax.set_xlim(0, p['xlim'])
    ax.set_ylim(0, p['ylim'])
    ax.set_xticks(p['xt'])
    ax.set_xticklabels([str(v) for v in p['xt']])
    ax.set_xticks(p['xminor'], minor=True)
    ytick_pos = [float(s) for s in p['yt']]
    ax.set_yticks(ytick_pos)
    ax.set_yticklabels(p['yt'])
    ax.set_yticks(p['yminor'], minor=True)
    ax.tick_params(axis='both', which='major', length=5, width=1.5, labelsize=p['ts'], pad=2, colors='#111111')
    ax.tick_params(axis='both', which='minor', length=5, width=1.5)
    # the tick labels in the original sit a few pixels off their ticks
    for lab, dx in zip(ax.get_xticklabels(), p['shift']):
        lab.set_transform(lab.get_transform() + ScaledTranslation(dx / 100, 0, fig.dpi_scale_trans))
    for s in ax.spines.values():
        s.set_linewidth(1.9)
        s.set_color('#0a0a0a')
    for txt, yy in zip((p['eq'], p['r2'], p['n']), p['ty']):
        fig.text(fx(p['tx']), fy(yy), txt, fontsize=p['ann'], va='center', ha='left', color='#111111')
    fig.text(fx(p['sx']), fy(p['sy']), p['site'], fontsize=p['site_fs'], va='center', ha='left', color='#111111')
    fig.text(fx(p['ylx']), fy(p['yly']), r'Stem diameter ($d_c$ in m)', fontsize=p['ls'], rotation=90,
             va='center', ha='center', color='#111111')
    fig.text(fx(p['xlx']), fy(p['xly']), r'Biomass ($B$ in g m$^{\text{-2}}$)', fontsize=p['ls'] - 2, va='center', ha='center', color='#111111')

fig.savefig('out.png', dpi=100)
